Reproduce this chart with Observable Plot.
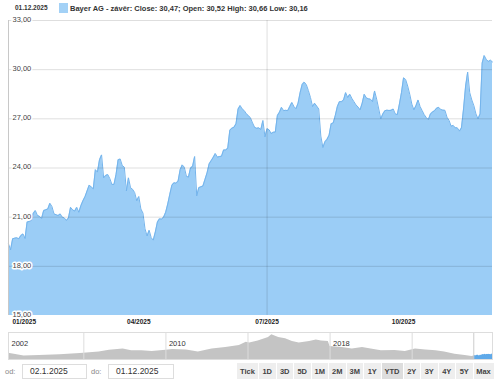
<!DOCTYPE html>
<html><head><meta charset="utf-8">
<script src="https://cdn.jsdelivr.net/npm/d3@7"></script>
<script src="https://cdn.jsdelivr.net/npm/@observablehq/plot@0.6"></script>
<style>
html,body{margin:0;padding:0;background:#fff}
body{position:relative;width:500px;height:387px;overflow:hidden;font-family:"Liberation Sans",Arial,sans-serif;color:#222}
.abs{position:absolute}
#dt{left:15px;top:4px;font-size:6.5px;font-weight:bold;color:#333}
#sw{left:59px;top:3px;width:9px;height:10px;background:#a3d1f6}
#lg{left:70px;top:3.5px;font-size:7.5px;font-weight:bold;color:#333;white-space:nowrap}
#main{left:0;top:17px}
#nav{left:0;top:332px}
.lbl{font-size:7.5px;color:#888}
.inp{border:1px solid #ddd;font-size:8.5px;line-height:13px;padding-left:7px;color:#333;box-sizing:border-box;height:15px}
#btns{left:237px;top:363px;display:flex;height:16px}
#btns div{background:#eee;margin-right:1px;font-size:7.5px;font-weight:bold;color:#444;display:flex;align-items:center;justify-content:center}
#btns div.on{background:#ddd}
</style></head><body>
<div id="dt" class="abs"></div><div id="sw" class="abs"></div><div id="lg" class="abs"></div>
<div id="main" class="abs"></div>
<div id="nav" class="abs"></div>
<div class="abs lbl" style="left:5px;top:367px">od:</div>
<div class="abs inp" id="from" style="left:22px;top:364px;width:65px"></div>
<div class="abs lbl" style="left:91px;top:367px">do:</div>
<div class="abs inp" id="to" style="left:108px;top:364px;width:66px"></div>
<div id="btns" class="abs"></div>
<script>
// ---- data ----
const closes = [
19.37,19.0,19.68,19.72,19.74,19.68,19.88,19.98,19.7,20.7,
20.74,20.8,21.24,21.4,21.1,21.05,20.92,21.4,21.45,21.5,
21.85,21.65,21.2,21.15,21.1,21.2,21.0,20.95,20.8,20.95,
21.6,21.45,21.37,21.6,21.3,21.7,22.0,22.25,22.6,22.95,
22.85,22.73,23.9,23.75,24.5,24.8,23.4,23.55,23.6,23.35,
23.0,23.0,23.6,24.5,24.55,24.15,24.05,22.6,23.4,22.8,
22.7,22.5,22.0,22.26,21.5,21.25,20.29,19.85,20.2,19.75,
19.6,20.1,20.7,20.9,20.88,21.0,21.3,21.8,22.4,22.95,
23.1,23.07,23.2,23.9,24.19,24.05,23.5,23.44,24.0,24.1,
24.7,22.3,22.8,22.85,22.9,23.3,23.7,24.25,24.45,24.65,
24.88,24.66,24.7,24.72,25.1,25.1,25.2,26.3,26.43,26.48,
26.7,27.6,27.81,27.6,27.5,27.3,27.2,27.05,26.75,26.48,
26.42,26.45,26.35,26.9,25.9,26.4,26.33,26.1,26.18,26.19,
27.2,27.4,27.7,27.5,27.52,27.5,27.75,28.0,27.75,27.62,
27.95,28.6,29.1,29.24,29.08,28.72,28.3,27.75,27.95,27.78,
27.6,25.95,25.25,25.6,25.75,26.0,26.7,26.75,27.2,27.75,
28.05,28.05,28.15,28.6,28.3,28.5,28.25,28.05,27.85,27.72,
27.55,27.95,28.5,28.28,28.22,28.2,28.05,28.7,28.2,27.6,
27.0,27.3,27.5,27.53,27.51,27.52,27.6,27.3,27.26,27.9,
28.6,29.5,29.4,29.0,28.5,27.9,27.55,27.8,28.15,27.75,
27.5,27.25,27.08,26.95,27.3,27.41,27.5,27.65,27.7,27.57,
27.53,27.52,27.1,26.9,26.55,26.6,26.45,26.45,26.25,26.45,
27.6,29.0,29.85,28.6,28.15,27.8,27.3,27.0,27.3,30.4,
30.86,30.62,30.5,30.58,30.47
];
const startDate = "2025-01-02";
const endDate = "2025-12-01";
const holidays = ["2025-01-01","2025-04-18","2025-04-21","2025-05-01"];
const tickMonths = ["2025-01","2025-04","2025-07","2025-10"];
const tickLabels = ["01/2025","04/2025","07/2025","10/2025"];
const yTicks = [15,18,21,24,27,30,33];

const navStart = "2002-05-01";
const navDates = ["2002-05","2002-10","2003-02","2003-11","2004-11","2005-11","2006-10","2007-04","2007-12","2008-05",
"2008-11","2009-05","2010-01","2010-05","2011-01","2011-08","2012-04","2012-12","2013-08","2013-12",
"2014-02","2014-07","2015-01","2015-03","2015-07","2015-11","2016-03","2016-07","2017-01","2017-05",
"2017-08","2017-12","2018-01","2018-08","2019-02","2019-08","2020-01","2020-07","2021-03","2021-09",
"2022-03","2022-09","2023-03","2023-08","2024-02","2024-08","2024-12"];
const navValues = [35,26,20,22,26,33,41,52,59,48,
48,44,52,56,53,41,59,67,78,96,
91,103,122,137,122,115,100,91,100,109,
103,100,72,67,59,67,59,48,50,44,
59,53,48,41,29,22,17];
const navDividers = ["2006","2010","2014","2018","2022"];
const navLabels = ["2002","2010","2018"];

const headerDate = "01.12.2025";
const legendText = "Bayer AG - závěr: Close: 30,47; Open: 30,52 High: 30,66 Low: 30,16";
const fromText = "02.1.2025", toText = "01.12.2025";
const buttons = ["Tick","1D","3D","5D","1M","2M","3M","1Y","YTD","2Y","3Y","4Y","5Y","Max"];
const activeButton = "YTD";

// ---- build ----
const fmtDay = d3.utcFormat("%Y-%m-%d");
const days = d3.utcDay.range(new Date(startDate), d3.utcDay.offset(new Date(endDate), 1))
  .filter(d => d.getUTCDay() % 6 !== 0 && !holidays.includes(fmtDay(d)));
const data = closes.map((v, i) => ({i, date: days[i], v}));
const tickIdx = tickMonths.map(m => days.findIndex(d => d >= new Date(m + "-01")));
const fmtNum = d => d3.format(".2f")(d).replace(".", ",");
const font = "Liberation Sans, Arial, sans-serif";

const main = Plot.plot({
  width: 500, height: 315, marginTop: 3, marginBottom: 17, marginLeft: 8, marginRight: 8,
  x: {domain: [0, closes.length - 1], axis: null, label: null},
  y: {domain: [15, 33], axis: null, label: null},
  style: {fontFamily: font, overflow: "visible", background: "transparent"},
  marks: [
    Plot.areaY(data, {x: "i", y1: 15, y2: "v", fill: "#9bcdf6"}),
    Plot.lineY(data, {x: "i", y: "v", stroke: "#74b4ec", strokeWidth: 1}),
    Plot.ruleY(yTicks.slice(1), {stroke: "#000", strokeOpacity: 0.13}),
    Plot.ruleX([tickIdx[2]], {stroke: "#000", strokeOpacity: 0.13}),
    Plot.ruleX([0], {stroke: "#c8c8c8"}),
    Plot.text(yTicks, {x: 0, y: d => d, text: fmtNum, textAnchor: "start", dx: 4, dy: -1,
      fill: "#444", stroke: "#fff", strokeWidth: 3, fontSize: 7.5}),
    Plot.axisX([tickIdx[0]], {tickSize: 0, tickPadding: 4, textAnchor: "start", dx: 4, label: null,
      tickFormat: () => tickLabels[0], fontWeight: "bold", fontSize: 6.5, fill: "#222"}),
    Plot.axisX(tickIdx.slice(1), {tickSize: 0, tickPadding: 4, label: null,
      tickFormat: d => tickLabels[tickIdx.indexOf(d)], fontWeight: "bold", fontSize: 6.5, fill: "#222"})
  ]
});
document.getElementById("main").appendChild(main);

const navData = navDates.map((d, k) => ({date: new Date(d + "-01"), v: navValues[k]}));
navData.push({date: days[0], v: closes[0]});
const nav = Plot.plot({
  width: 500, height: 28, marginTop: 0, marginBottom: 1, marginLeft: 8, marginRight: 8,
  x: {type: "utc", domain: [new Date(navStart), new Date(endDate)], axis: null},
  y: {domain: [0, 150], axis: null},
  style: {fontFamily: font, background: "transparent"},
  marks: [
    Plot.areaY(navData, {x: "date", y: "v", fill: "#c4c4c4"}),
    Plot.areaY(data, {x: "date", y: "v", fill: "#5ea9e9"}),
    Plot.ruleX(navDividers.map(y => new Date(y + "-01-01")), {stroke: "#ddd"}),
    Plot.ruleX([days[0]], {stroke: "#ccc"}),
    Plot.frame({stroke: "#ddd"}),
    Plot.text(navLabels, {x: y => y === navLabels[0] ? new Date(navStart) : new Date(y + "-01-01"),
      text: d => d, frameAnchor: "top", dy: 8, dx: 3, textAnchor: "start", fontSize: 7.5, fill: "#333"})
  ]
});
document.getElementById("nav").appendChild(nav);

document.getElementById("dt").textContent = headerDate;
document.getElementById("lg").textContent = legendText;
document.getElementById("from").textContent = fromText;
document.getElementById("to").textContent = toText;
const bw = {Tick: 21, YTD: 21, Max: 20};
const bc = document.getElementById("btns");
for (const b of buttons) {
  const el = document.createElement("div");
  el.textContent = b;
  el.style.width = (bw[b] || 16.5) + "px";
  if (b === activeButton) el.className = "on";
  bc.appendChild(el);
}
</script>
</body></html>
